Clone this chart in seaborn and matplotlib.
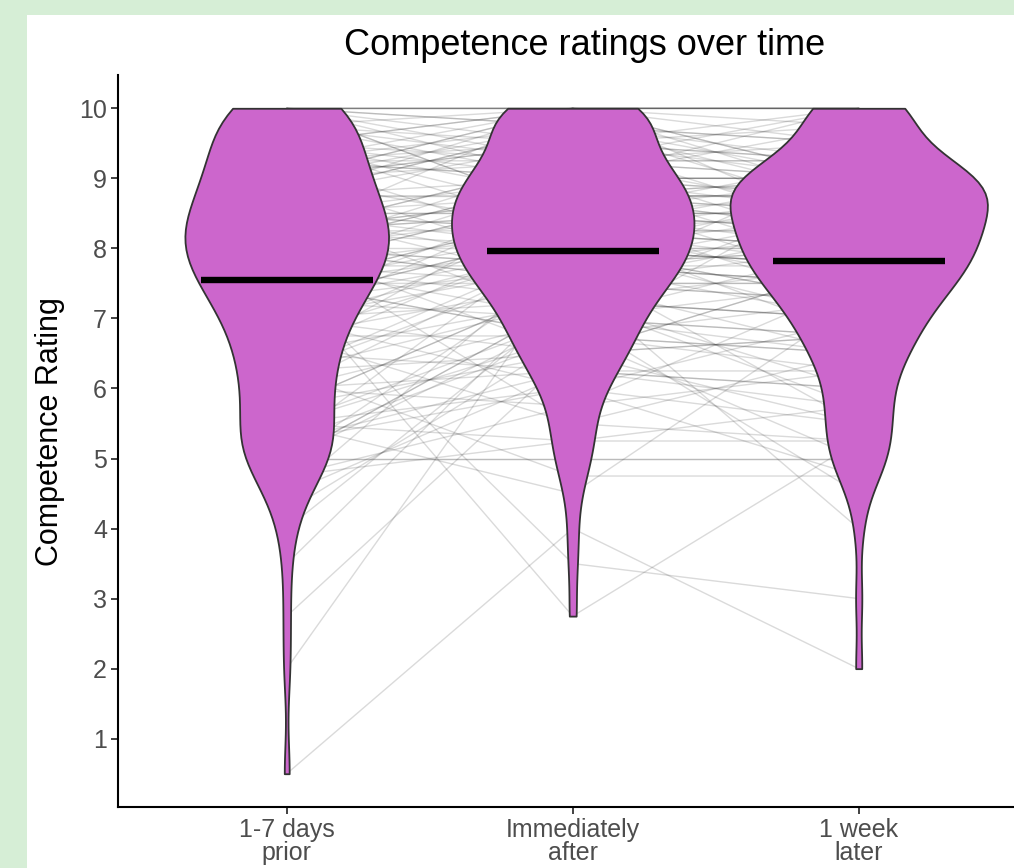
import numpy as np
import pandas as pd
import matplotlib
matplotlib.use("Agg")
import matplotlib.pyplot as plt
import seaborn as sns
from matplotlib.patches import Rectangle

# ---- data -----------------------------------------------------------------
timepoints = ["1-7 days\nprior", "Immediately\nafter", "1 week\nlater"]

# one value per participant, same participant order in every list
prior = [
    10, 10, 10, 10, 10, 10, 10, 10, 10, 10,
    10, 10, 9.75, 9.5, 9.75, 9.5, 9.75, 9.5, 9.75, 9.5,
    9.25, 9.5, 9.25, 9.25, 9.5, 9.25, 9.25, 9.5, 9.25, 9.25,
    9, 9, 8.75, 9, 9, 9, 9, 8.75, 9, 9,
    8.75, 8.5, 8.75, 8.5, 8.5, 8.75, 8.5, 8.75, 8.5, 8.75,
    8.5, 8.25, 8.5, 8.25, 8.25, 8.5, 8.25, 8.5, 8.25, 8.5,
    8.25, 8, 8, 8.25, 8, 8, 8.25, 8, 8, 8.25,
    8, 7.75, 8, 7.75, 8, 7.75, 7.75, 8, 7.75, 8,
    7.5, 7.75, 7.5, 7.5, 7.5, 7.75, 7.5, 7.5, 7.5, 7.75,
    7.25, 7.25, 7, 7.25, 7.25, 7, 7.25, 7.25, 7.5, 7.5,
    7, 6.75, 7, 6.75, 6.5, 6.75, 7, 6.75, 6.75, 7,
    6.5, 6.25, 6, 6.25, 6.5, 6.25, 6.25, 6, 6.5, 6.25,
    6, 5.5, 5.75, 5.5, 5.5, 6, 5.5, 5.75, 5.5, 5.75,
    5.25, 5, 5, 5.25, 5, 5.25, 5, 0.5, 5.25, 5,
    4.75, 4.5, 4.25, 5, 4, 3.5, 4.75, 2.75, 2, 4.5,
]
after = [
    10, 9.75, 10, 10, 9, 9.25, 9.5, 9.75, 8.5, 8.5,
    10, 10, 9.25, 10, 9.5, 8.75, 10, 9.25, 9, 8.25,
    9.75, 9, 10, 9.5, 8.5, 9, 9, 10, 8, 9.25,
    9.5, 10, 8.75, 9.25, 10, 8.25, 9.75, 8.75, 9.5, 7.75,
    9, 8.5, 9.75, 9, 8, 10, 8.5, 9.5, 7.5, 9.75,
    8.75, 9.25, 8.25, 8.75, 8.75, 7.75, 9.25, 8.25, 10, 7,
    8.5, 8, 9, 8.5, 7.5, 7.5, 8, 9, 6.5, 8.25,
    8.5, 8.75, 7.75, 8.25, 9.25, 7, 8.75, 7.75, 7.75, 5.5,
    8.25, 7.5, 8.5, 8, 6.75, 9, 7.5, 8.5, 3.5, 7.25,
    8, 8.25, 7.25, 7.75, 8.75, 6, 8.25, 7, 6.75, 2.75,
    7.75, 6.75, 8, 7.5, 6.25, 8.5, 6.5, 8, 5.5, 8.75,
    7.25, 8, 6.25, 7.25, 8.25, 4.75, 7.75, 5.75, 8.75, 6.5,
    7, 5.25, 7.5, 6.75, 6, 8, 4.5, 7.5, 7, 6.5,
    6.25, 7.25, 5, 6, 7.75, 6.75, 7, 4, 8.25, 7.25,
    5.25, 6.25, 6.75, 5, 7.25, 7.5, 5.75, 6.5, 7.75, 8,
]
later = [
    10, 9, 9, 9.5, 9, 9, 9.75, 9.25, 8.25, 9,
    10, 10, 9.25, 10, 10, 8.5, 9, 10, 8.75, 8.5,
    9.5, 9, 10, 9, 8.75, 9.75, 10, 8.75, 7.75, 9.5,
    9.25, 10, 8.75, 9, 9.75, 8, 8.5, 9, 9.25, 8,
    9, 8.5, 9.5, 8.5, 8.5, 10, 9.25, 8.25, 7.25, 8.75,
    8.75, 9.25, 8.25, 8.75, 9, 7.5, 8, 9, 8.25, 7.5,
    8.5, 8, 9, 8, 8, 9.25, 8.75, 7.75, 6.75, 7.75,
    8.25, 8.75, 7.75, 8.75, 8.5, 6.75, 7.5, 8.5, 8, 6.5,
    8, 7.5, 8.5, 7.25, 7.25, 8.75, 8.25, 7.25, 3, 8.75,
    7.75, 8.25, 7, 8.25, 8.25, 5.5, 6.75, 8, 9, 5.25,
    7.5, 6.5, 8, 6.5, 6.25, 8.25, 7.75, 7.25, 5.25, 8.25,
    7, 7.75, 5.75, 7.75, 7.5, 4.75, 5.5, 7.5, 8.5, 6.75,
    6.5, 5.75, 7.5, 5, 4.75, 7.75, 7.25, 4, 6.75, 7.75,
    6, 7, 5, 7, 7, 6.25, 4.5, 2, 8, 6,
    5.25, 6, 6.5, 5, 5.75, 7.25, 6.25, 5.5, 7.5, 7,
]

title = "Competence ratings over time"
ylabel = "Competence Rating"
yticks = [1, 2, 3, 4, 5, 6, 7, 8, 9, 10]

# ---- long-form table --------------------------------------------------------
n = len(prior)
long = pd.DataFrame({
    "id": np.tile(np.arange(n), 3),
    "pos": np.repeat(np.arange(len(timepoints)), n),
    "rating": np.concatenate([prior, after, later]).astype(float),
})

# ---- figure -----------------------------------------------------------------
sns.set_style("ticks")
plt.rcParams["font.family"] = ["Liberation Sans", "DejaVu Sans"]

W, H = 1014, 868
fig = plt.figure(figsize=(W / 100, H / 100), dpi=100)
fig.patch.set_facecolor("#d6eed6")
fig.add_artist(Rectangle((27 / W, 0), 1, 1 - 15 / H, transform=fig.transFigure,
                         facecolor="white", edgecolor="none", zorder=-10))

ax = fig.add_axes([118 / W, (H - 807) / H, (W - 118) / W, (807 - 75) / H])
ax.set_facecolor("white")

# participant trajectories
sns.lineplot(data=long, x="pos", y="rating", units="id", estimator=None,
             color="#333333", alpha=0.18, lw=1.0, ax=ax, legend=False)
for ln in ax.lines:
    ln.set_zorder(1)

# violins
n_coll = len(ax.collections)
sns.violinplot(data=long, x="pos", y="rating", color="#CC66CC", saturation=1,
               cut=0, inner=None, bw_adjust=0.7, density_norm="area", width=0.9,
               linewidth=1.3, linecolor="#333333", ax=ax)
for c in ax.collections[n_coll:]:
    c.set_zorder(3)

# mean bars
means = long.groupby("pos")["rating"].mean()
ax.hlines(means.values, means.index - 0.3, means.index + 0.3,
          color="black", lw=4.6, zorder=4)

ax.set_xlim(-0.59, 2.543)
ax.set_ylim(0.025, 10.475)
ax.set_xticks(range(len(timepoints)))
ax.set_xticklabels(timepoints, linespacing=0.95)
ax.set_yticks(yticks)
ax.set_xlabel("")
ax.set_ylabel("")

for side in ("top", "right"):
    ax.spines[side].set_visible(False)
for side in ("left", "bottom"):
    ax.spines[side].set_linewidth(1.5)
    ax.spines[side].set_color("black")
ax.tick_params(axis="both", length=5, width=1.3, color="#333333",
               labelsize=18, labelcolor="#4d4d4d", pad=3)

fig.text(585 / W, 1 - 55 / H, title, ha="center", va="baseline", fontsize=26, color="black")
fig.text(50 / W, 1 - 432 / H, ylabel, ha="center", va="center", rotation=90,
         fontsize=22, color="black")

fig.savefig("out.png", dpi=100, facecolor=fig.get_facecolor())
